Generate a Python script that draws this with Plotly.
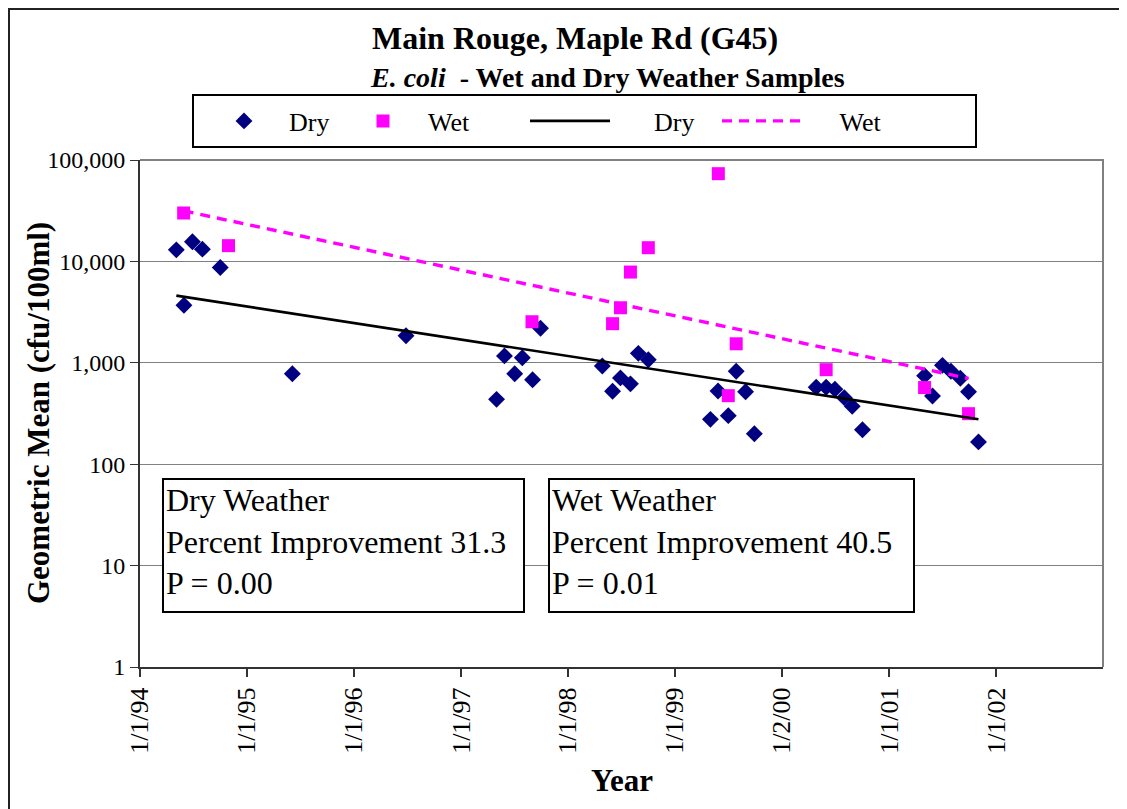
import plotly.graph_objects as go

# ---------------- data ----------------
dry_dates = ["1994-05-05", "1994-05-31", "1994-06-29", "1994-08-02", "1994-10-02",
             "1995-06-05", "1996-06-27",
             "1997-05-02", "1997-05-29", "1997-07-03", "1997-07-29", "1997-09-02", "1997-09-29",
             "1998-04-28", "1998-06-02", "1998-06-29", "1998-08-02", "1998-08-29", "1998-10-02",
             "1999-05-02", "1999-05-28", "1999-07-02", "1999-07-29", "1999-08-30", "1999-09-29",
             "2000-04-27", "2000-05-31", "2000-06-30", "2000-08-01", "2000-08-28", "2000-10-02",
             "2001-05-02", "2001-05-29", "2001-07-02", "2001-07-31", "2001-09-01", "2001-09-29",
             "2001-11-02"]
dry_values = [13000, 3700, 15600, 13200, 8700,
              780, 1850,
              436, 1170, 780, 1120, 680, 2190,
              930, 525, 710, 620, 1240, 1070,
              277, 527, 301, 824, 519, 200,
              573, 573, 548, 453, 372, 219,
              747, 471, 944, 824, 703, 519,
              166]

wet_dates = ["1994-05-30", "1994-10-30", "1997-08-31", "1998-06-02", "1998-06-29",
             "1998-08-02", "1998-10-02", "1999-05-29", "1999-07-02", "1999-07-29",
             "2000-05-31", "2001-05-02", "2001-09-29"]
wet_values = [30000, 14300, 2540, 2430, 3490,
              7850, 13650, 73300, 474, 1540,
              855, 570, 315]

# fitted trend lines (end points)
dry_trend_dates = ["1994-05-05", "2001-11-02"]
dry_trend_values = [4600, 277]
wet_trend_dates = ["1994-05-30", "2001-09-29"]
wet_trend_values = [31500, 700]

x_tick_vals = ["1994-01-01", "1995-01-01", "1996-01-01", "1997-01-01", "1998-01-01",
               "1999-01-01", "2000-01-01", "2001-01-01", "2002-01-01"]
x_tick_text = ["1/1/94", "1/1/95", "1/1/96", "1/1/97", "1/1/98",
               "1/1/99", "1/2/00", "1/1/01", "1/1/02"]
y_tick_vals = [1, 10, 100, 1000, 10000, 100000]
y_tick_text = ["1", "10", "100", "1,000", "10,000", "100,000"]

series_names = ["Dry", "Wet", "Dry", "Wet"]

title_line1 = "Main Rouge, Maple Rd (G45)"
title_line2 = "<i>E. coli</i>\u00a0 - Wet and Dry Weather Samples"
dry_box = "Dry Weather<br>Percent Improvement 31.3<br>P = 0.00"
wet_box = "Wet Weather<br>Percent Improvement 40.5<br>P = 0.01"

# ---------------- layout helpers ----------------
# page body has an 8px margin, so figure coords = screen coords - 8
OFF = 8
W, H = 1127, 809
L, R, T, B = 140, 1103, 160, 667          # plot area in screen coords
PW, PH = R - L, B - T


def px(x):
    return (x - L) / PW


def py(y):
    return (B - y) / PH


SERIF = "Liberation Serif, Times New Roman, serif"
NAVY = "#000080"
MAGENTA = "#FF00FF"
NB = "\u00a0"

fig = go.Figure()
fig.add_trace(go.Scatter(x=dry_dates, y=dry_values, mode="markers", name=series_names[0],
                         marker=dict(symbol="diamond", size=13, color=NAVY),
                         legend="legend"))
fig.add_trace(go.Scatter(x=wet_dates, y=wet_values, mode="markers", name=series_names[1],
                         marker=dict(symbol="square", size=13, color=MAGENTA),
                         legend="legend2"))
fig.add_trace(go.Scatter(x=dry_trend_dates, y=dry_trend_values, mode="lines",
                         name=NB * 6 + series_names[2],
                         line=dict(color="black", width=2.6),
                         legend="legend3"))
fig.add_trace(go.Scatter(x=wet_trend_dates, y=wet_trend_values, mode="lines",
                         name=NB * 5 + series_names[3],
                         line=dict(color=MAGENTA, width=3.4, dash="10px,7px"),
                         legend="legend4"))

leg_common = dict(orientation="h", xanchor="left", yanchor="middle",
                  bgcolor="rgba(0,0,0,0)", borderwidth=0, itemwidth=80,
                  font=dict(family=SERIF, size=26, color="black"))
leg_y = py(121)
legends = {}
for key, xpos in [("legend", 199), ("legend2", 338), ("legend3", 525), ("legend4", 717)]:
    d = dict(leg_common)
    d["x"] = px(xpos)
    d["y"] = leg_y
    legends[key] = d

shapes = [
    # outer frame
    dict(type="path", xref="paper", yref="paper",
         path=f"M {px(9)},{py(830)} L {px(9)},{py(9)} L {px(1140)},{py(9)}",
         line=dict(color="#222222", width=2)),
    # plot area top/right border
    dict(type="path", xref="paper", yref="paper",
         path="M 0,1 L 1,1 L 1,0",
         line=dict(color="#808080", width=2), layer="above"),
    # legend box
    dict(type="rect", xref="paper", yref="paper",
         x0=px(193), x1=px(976), y0=py(147), y1=py(95),
         line=dict(color="black", width=2), fillcolor="white", layer="below"),
]

annotations = [
    dict(text="<b>" + title_line1 + "</b>", x=px(575), y=py(38), xref="paper", yref="paper",
         xanchor="center", yanchor="middle", showarrow=False,
         font=dict(family=SERIF, size=32, color="black")),
    dict(text="<b>" + title_line2 + "</b>", x=px(607), y=py(77), xref="paper", yref="paper",
         xanchor="center", yanchor="middle", showarrow=False,
         font=dict(family=SERIF, size=28, color="black")),
    dict(text="<b>Geometric Mean (cfu/100ml)</b>", x=px(38), y=py(413), xref="paper", yref="paper",
         xanchor="center", yanchor="middle", showarrow=False, textangle=-90,
         font=dict(family=SERIF, size=31, color="black")),
    dict(text="<b>Year</b>", x=px(622), y=py(780), xref="paper", yref="paper",
         xanchor="center", yanchor="middle", showarrow=False,
         font=dict(family=SERIF, size=31, color="black")),
    dict(text=dry_box, x=px(162), y=py(478), xref="paper", yref="paper",
         xanchor="left", yanchor="top", showarrow=False, align="left", valign="top",
         width=355, height=127, borderpad=2, bordercolor="black", borderwidth=2,
         bgcolor="white", font=dict(family=SERIF, size=32, color="black")),
    dict(text=wet_box, x=px(548), y=py(478), xref="paper", yref="paper",
         xanchor="left", yanchor="top", showarrow=False, align="left", valign="top",
         width=359, height=127, borderpad=2, bordercolor="black", borderwidth=2,
         bgcolor="white", font=dict(family=SERIF, size=32, color="black")),
]

fig.update_layout(
    width=W, height=H,
    margin=dict(l=L - OFF, r=W - (R - OFF), t=T - OFF, b=H - (B - OFF)),
    paper_bgcolor="white", plot_bgcolor="white",
    showlegend=True,
    shapes=shapes, annotations=annotations,
    **legends,
)
fig.update_xaxes(type="date", range=["1994-01-01", "2003-01-01"],
                 tickmode="array", tickvals=x_tick_vals, ticktext=x_tick_text,
                 tickangle=-90, ticks="outside", ticklen=8, tickcolor="#333333", tickwidth=2,
                 showgrid=False, showline=True, linecolor="#333333", linewidth=2,
                 zeroline=False,
                 tickfont=dict(family=SERIF, size=26, color="black"))
fig.update_yaxes(type="log", range=[0, 5],
                 tickmode="array", tickvals=y_tick_vals, ticktext=y_tick_text,
                 ticks="outside", ticklen=8, tickcolor="#333333", tickwidth=1,
                 showgrid=True, gridcolor="#808080", gridwidth=1,
                 showline=True, linecolor="#333333", linewidth=2, zeroline=False,
                 tickfont=dict(family=SERIF, size=24, color="black"))

fig.write_html("out.html")
